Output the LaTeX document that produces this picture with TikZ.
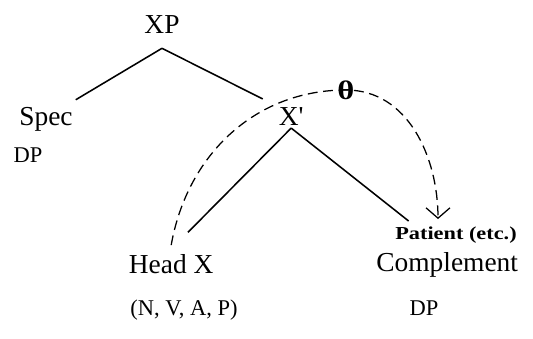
\documentclass[tikz,border=0pt]{standalone}
\usepackage{fontspec}
\setmainfont{Liberation Serif}
\newfontfamily\widefont[FakeStretch=1.22]{Liberation Serif}
\usepackage{tikz}
\usetikzlibrary{arrows.meta,positioning,calc}

\begin{document}
\begin{tikzpicture}[
    cat/.style={inner sep=2pt, anchor=base, font=\fontsize{19.5}{22}\selectfont},
    sub/.style={inner sep=2pt, anchor=base, font=\fontsize{16}{18}\selectfont},
    role/.style={inner sep=2pt, anchor=base, font=\widefont\bfseries\fontsize{13}{15}\selectfont},
    branch/.style={line width=1.1pt},
    theta/.style={dash pattern=on 7pt off 4pt, line width=0.9pt, -{Straight Barb[length=2.6mm,width=6mm]}}
]
    \useasboundingbox (0,0) rectangle (13.325,-8.45);

    \node[cat] (xp) at (4.05,-0.83) {XP};
    \node[cat] (spec) at (1.15,-3.125) {Spec};
    \node[sub] (specdp) at (0.7,-4.07) {DP};
    \node[cat] (xbar) at (7.28,-3.125) {X\textquotesingle};
    \node[cat] (head) at (4.28,-6.84) {Head X};
    \node[sub] (cats) at (4.6,-7.88) {(N, V, A, P)};
    \node[role] (patient) at (11.4,-5.99) {Patient (etc.)};
    \node[cat] (comp) at (11.18,-6.78) {Complement};
    \node[sub] (compdp) at (10.6,-7.88) {DP};
    \node[inner sep=0pt, font=\widefont\bfseries\fontsize{19}{21}\selectfont] (th) at (8.65,-2.25) {θ};

    \draw[branch] ([yshift=-3mm]xp.south) -- ([yshift=1mm]spec.north east);
    \draw[branch] ([yshift=-3mm]xp.south) -- ([xshift=-3.25mm,yshift=1.25mm]xbar.north west);
    \draw[branch] (xbar.south) -- ([xshift=4.2mm,yshift=4.8mm]head.north);
    \draw[branch] (xbar.south) -- ([xshift=4.1mm,yshift=0.7mm]patient.north west);

    \draw[theta] ([yshift=1.6mm]head.north) to[out=80,in=180] (th.center)
        to[out=0,in=90] ([xshift=-4.5mm,yshift=1.2mm]patient.north);
\end{tikzpicture}
\end{document}
